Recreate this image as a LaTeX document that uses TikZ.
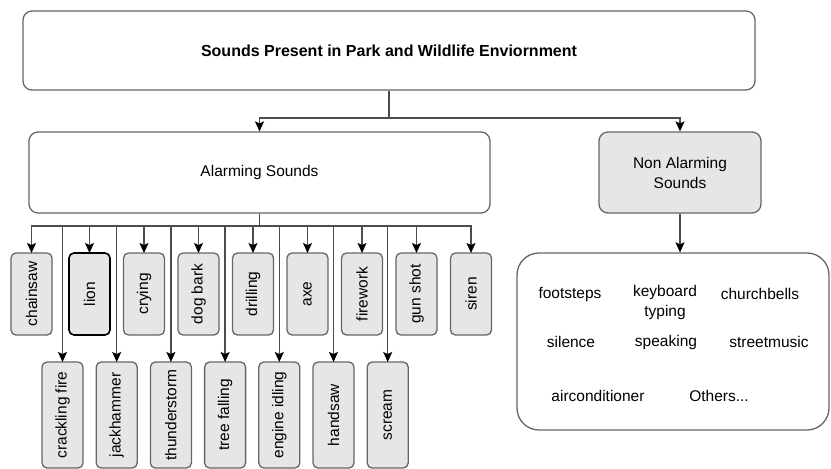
\documentclass[tikz,border=0pt]{standalone}
\usepackage{fontspec}
\setmainfont{Liberation Sans}
\usetikzlibrary{arrows.meta,positioning}
\definecolor{edgegray}{HTML}{4D4D4D}
\definecolor{linegray}{HTML}{666666}
\definecolor{cellfill}{HTML}{E6E6E6}
\newcommand{\vlabel}[1]{\rotatebox{90}{#1}}

\begin{document}
\begin{tikzpicture}[
  x=1pt, y=-1pt,
  font=\fontsize{15.5}{19}\selectfont,
  panel/.style={draw=linegray, line width=1.3pt, rounded corners=9pt, align=center, inner sep=0pt},
  cell/.style={draw=linegray, fill=cellfill, line width=1.3pt, rounded corners=5pt,
    inner sep=0pt, outer sep=0pt, minimum width=41pt},
  upper/.style={cell, minimum height=82pt},
  lower/.style={cell, minimum height=106pt},
  arr/.style={-{Stealth[length=10pt,width=9pt,inset=2pt,color=black]}, draw=edgegray, line width=1.3pt},
  item/.style={inner sep=0pt, align=center}
]
\useasboundingbox (0,0) rectangle (831,469);

% main levels
\node[panel, minimum width=732pt, minimum height=79pt, font=\fontsize{16}{19}\selectfont\bfseries]
  (top) at (389,50.5) {Sounds Present in Park and Wildlife Enviornment};
\node[panel, minimum width=461pt, minimum height=81pt] (alarm) at (259.5,172.5) {Alarming Sounds};
\node[panel, fill=cellfill, minimum width=162pt, minimum height=81pt, font=\fontsize{15.5}{20}\selectfont]
  (calm) at (680,172.5) {Non Alarming\\Sounds};
\node[panel, rounded corners=22pt, minimum width=312pt, minimum height=177pt] (calmbox) at (673,341.5) {};

% alarming sounds, upper row
\node[upper] (chainsaw) at (31.5,294) {\vlabel{chainsaw}};
\node[upper, draw=black, line width=1.6pt, right=17pt of chainsaw] (lion) {\vlabel{lion}};
\node[upper, right=13.5pt of lion] (crying) {\vlabel{crying}};
\node[upper, right=13.5pt of crying] (dogbark) {\vlabel{dog bark}};
\node[upper, right=13.5pt of dogbark] (drilling) {\vlabel{drilling}};
\node[upper, right=13.5pt of drilling] (axe) {\vlabel{axe}};
\node[upper, right=13.5pt of axe] (firework) {\vlabel{firework}};
\node[upper, right=13.5pt of firework] (gunshot) {\vlabel{gun shot}};
\node[upper, right=13.5pt of gunshot] (siren) {\vlabel{siren}};

% alarming sounds, lower row
\node[lower] (crackling) at (62.5,415) {\vlabel{crackling fire}};
\node[lower, right=13.2pt of crackling] (jackhammer) {\vlabel{jackhammer}};
\node[lower, right=13.2pt of jackhammer] (thunder) {\vlabel{thunderstorm}};
\node[lower, right=13.2pt of thunder] (treefall) {\vlabel{tree falling}};
\node[lower, right=13.2pt of treefall] (engine) {\vlabel{engine idling}};
\node[lower, right=13.2pt of engine] (handsaw) {\vlabel{handsaw}};
\node[lower, right=13.2pt of handsaw] (scream) {\vlabel{scream}};

% non alarming sounds
\node[item] (footsteps) at (570,294) {footsteps};
\node[item, font=\fontsize{15.5}{20}\selectfont] (keyboard) at (665,302) {keyboard\\typing};
\node[item] (churchbells) at (760,294) {churchbells};
\node[item] (silence) at (571,342) {silence};
\node[item] (speaking) at (666,342) {speaking};
\node[item] (streetmusic) at (769,342) {streetmusic};
\node[item] (aircon) at (598,396) {airconditioner};
\node[item] (others) at (719,396) {Others...};

% connectors
\coordinate (split) at (389,118);
\coordinate (bus) at (259.5,226);
\draw[arr] (top.south) -- (split) -| (alarm.north); \draw[arr] (top.south) -- (split) -| (calm.north);
\draw[arr] (calm.south) -- (calm.south |- calmbox.north);
\draw[arr] (alarm.south) -- (bus) -| (chainsaw.north); \draw[arr] (alarm.south) -- (bus) -| (lion.north);
\draw[arr] (alarm.south) -- (bus) -| (crying.north); \draw[arr] (alarm.south) -- (bus) -| (dogbark.north);
\draw[arr] (alarm.south) -- (bus) -| (drilling.north); \draw[arr] (alarm.south) -- (bus) -| (axe.north);
\draw[arr] (alarm.south) -- (bus) -| (firework.north); \draw[arr] (alarm.south) -- (bus) -| (gunshot.north);
\draw[arr] (alarm.south) -- (bus) -| (siren.north);
\draw[arr] (alarm.south) -- (bus) -| (crackling.north); \draw[arr] (alarm.south) -- (bus) -| (jackhammer.north);
\draw[arr] (alarm.south) -- (bus) -| (thunder.north); \draw[arr] (alarm.south) -- (bus) -| (treefall.north);
\draw[arr] (alarm.south) -- (bus) -| (engine.north); \draw[arr] (alarm.south) -- (bus) -| (handsaw.north);
\draw[arr] (alarm.south) -- (bus) -| (scream.north);
\end{tikzpicture}
\end{document}
